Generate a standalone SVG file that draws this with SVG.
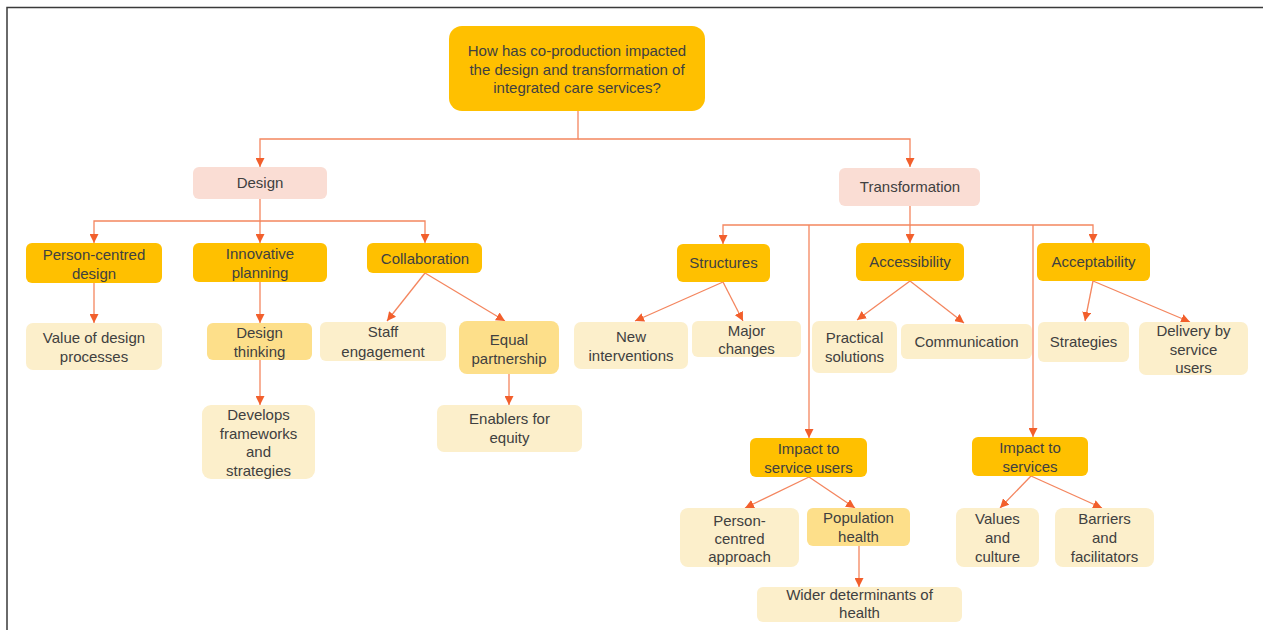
<svg xmlns="http://www.w3.org/2000/svg" width="1263" height="630" viewBox="0 0 1263 630">
<defs>
<style>
.t{font-family:"Liberation Sans",Arial,sans-serif;font-size:15px;fill:#404040;text-anchor:middle}
.root{fill:#FFC000}
.cat{fill:#FADDD4}
.dark{fill:#FFC000}
.mid{fill:#FDDF8A}
.light{fill:#FCEFCB}
.c{fill:none;stroke:#F4865F;stroke-width:1.3;marker-end:url(#ah)}
.cn{fill:none;stroke:#F4865F;stroke-width:1.3}
</style>
<marker id="ah" viewBox="0 0 10 10" refX="10" refY="5" markerWidth="9" markerHeight="9" markerUnits="userSpaceOnUse" orient="auto">
<path d="M0,0 L10,5 L0,10 z" fill="#F25F2C"/>
</marker>
</defs>
<rect x="0" y="0" width="1263" height="630" fill="#ffffff"/>
<path d="M7,630 V7.5 H1263" fill="none" stroke="#3a3a3a" stroke-width="1.5"/>

<g id="connectors">
<path class="c" d="M578,111 V139 H260 V167"/>
<path class="c" d="M578,139 H910 V167"/>
<path class="c" d="M260,199 V221 H94 V243"/>
<path class="c" d="M260,221 V243"/>
<path class="c" d="M260,221 H425 V243"/>
<path class="c" d="M94,283 V323"/>
<path class="c" d="M260,282 V323"/>
<path class="c" d="M260,360 V405"/>
<path class="c" d="M425,273 L387,321"/>
<path class="c" d="M425,273 L505,321"/>
<path class="c" d="M509,374 V405"/>
<path class="c" d="M910,206 V225 H723 V244"/>
<path class="c" d="M910,225 V243"/>
<path class="c" d="M910,225 H1093 V243"/>
<path class="c" d="M809,225 V438"/>
<path class="c" d="M1033,225 V437"/>
<path class="c" d="M723,282 L635,321"/>
<path class="c" d="M723,282 L743,321"/>
<path class="c" d="M910,281 L857,320"/>
<path class="c" d="M910,281 L964,323"/>
<path class="c" d="M1093,281 L1085,321"/>
<path class="c" d="M1093,281 L1190,322"/>
<path class="c" d="M809,477 L745,508"/>
<path class="c" d="M809,477 L855,508"/>
<path class="c" d="M859,546 V587"/>
<path class="c" d="M1031,476 L1000,508"/>
<path class="c" d="M1031,476 L1102,508"/>
</g>

<g id="root">
<rect class="root" x="449" y="26" width="256" height="85" rx="13"/>
<text class="t" x="577" y="56">How has co-production impacted</text>
<text class="t" x="577" y="74.5">the design and transformation of</text>
<text class="t" x="577" y="93">integrated care services?</text>
</g>

<g id="design">
<rect class="cat" x="193" y="167" width="134" height="32" rx="6"/>
<text class="t" x="260" y="188">Design</text>
</g>
<g id="transformation">
<rect class="cat" x="839" y="168" width="141" height="38" rx="6"/>
<text class="t" x="910" y="192">Transformation</text>
</g>

<g id="person-centred-design">
<rect class="dark" x="26" y="243" width="136" height="40" rx="6"/>
<text class="t" x="94" y="260">Person-centred</text>
<text class="t" x="94" y="279">design</text>
</g>
<g id="innovative-planning">
<rect class="dark" x="193" y="243" width="134" height="39" rx="6"/>
<text class="t" x="260" y="259">Innovative</text>
<text class="t" x="260" y="278">planning</text>
</g>
<g id="collaboration">
<rect class="dark" x="367" y="243" width="115" height="30" rx="6"/>
<text class="t" x="425" y="264">Collaboration</text>
</g>
<g id="value-design">
<rect class="light" x="26" y="323" width="136" height="47" rx="7"/>
<text class="t" x="94" y="343">Value of design</text>
<text class="t" x="94" y="362">processes</text>
</g>
<g id="design-thinking">
<rect class="mid" x="207" y="323" width="105" height="37" rx="6"/>
<text class="t" x="259.5" y="338">Design</text>
<text class="t" x="259.5" y="357">thinking</text>
</g>
<g id="develops">
<rect class="light" x="202" y="405" width="113" height="74" rx="9"/>
<text class="t" x="258.5" y="420">Develops</text>
<text class="t" x="258.5" y="438.5">frameworks</text>
<text class="t" x="258.5" y="457">and</text>
<text class="t" x="258.5" y="475.5">strategies</text>
</g>
<g id="staff-engagement">
<rect class="light" x="320" y="322" width="126" height="39" rx="6"/>
<text class="t" x="383" y="337">Staff</text>
<text class="t" x="383" y="357">engagement</text>
</g>
<g id="equal-partnership">
<rect class="mid" x="459" y="321" width="100" height="53" rx="8"/>
<text class="t" x="509" y="345">Equal</text>
<text class="t" x="509" y="363.5">partnership</text>
</g>
<g id="enablers">
<rect class="light" x="437" y="405" width="145" height="47" rx="7"/>
<text class="t" x="509.5" y="424">Enablers for</text>
<text class="t" x="509.5" y="443">equity</text>
</g>

<g id="structures">
<rect class="dark" x="677" y="244" width="93" height="38" rx="6"/>
<text class="t" x="723.5" y="268">Structures</text>
</g>
<g id="accessibility">
<rect class="dark" x="856" y="243" width="108" height="38" rx="6"/>
<text class="t" x="910" y="267">Accessibility</text>
</g>
<g id="acceptability">
<rect class="dark" x="1037" y="243" width="113" height="38" rx="6"/>
<text class="t" x="1093.5" y="267">Acceptability</text>
</g>
<g id="new-interventions">
<rect class="light" x="574" y="322" width="114" height="47" rx="7"/>
<text class="t" x="631" y="342">New</text>
<text class="t" x="631" y="361">interventions</text>
</g>
<g id="major-changes">
<rect class="light" x="692" y="321" width="109" height="36" rx="6"/>
<text class="t" x="746.5" y="336">Major</text>
<text class="t" x="746.5" y="354">changes</text>
</g>
<g id="practical-solutions">
<rect class="light" x="812" y="321" width="85" height="52" rx="7"/>
<text class="t" x="854.5" y="343">Practical</text>
<text class="t" x="854.5" y="362">solutions</text>
</g>
<g id="communication">
<rect class="light" x="901" y="324" width="131" height="35" rx="6"/>
<text class="t" x="966.5" y="347">Communication</text>
</g>
<g id="strategies">
<rect class="light" x="1038" y="322" width="91" height="40" rx="6"/>
<text class="t" x="1083.5" y="347">Strategies</text>
</g>
<g id="delivery">
<rect class="light" x="1139" y="322" width="109" height="53" rx="7"/>
<text class="t" x="1193.5" y="336">Delivery by</text>
<text class="t" x="1193.5" y="354.5">service</text>
<text class="t" x="1193.5" y="372.5">users</text>
</g>

<g id="impact-service-users">
<rect class="dark" x="750" y="438" width="117" height="39" rx="6"/>
<text class="t" x="808.5" y="454">Impact to</text>
<text class="t" x="808.5" y="473">service users</text>
</g>
<g id="impact-services">
<rect class="dark" x="972" y="437" width="116" height="39" rx="6"/>
<text class="t" x="1030" y="453">Impact to</text>
<text class="t" x="1030" y="472">services</text>
</g>
<g id="person-centred-approach">
<rect class="light" x="680" y="508" width="119" height="59" rx="8"/>
<text class="t" x="739.5" y="526">Person-</text>
<text class="t" x="739.5" y="544">centred</text>
<text class="t" x="739.5" y="562">approach</text>
</g>
<g id="population-health">
<rect class="mid" x="807" y="508" width="103" height="38" rx="6"/>
<text class="t" x="858.5" y="523">Population</text>
<text class="t" x="858.5" y="542">health</text>
</g>
<g id="wider-determinants">
<rect class="light" x="757" y="587" width="205" height="35" rx="6"/>
<text class="t" x="859.5" y="600">Wider determinants of</text>
<text class="t" x="859.5" y="618">health</text>
</g>
<g id="values-culture">
<rect class="light" x="956" y="508" width="83" height="59" rx="8"/>
<text class="t" x="997.5" y="524">Values</text>
<text class="t" x="997.5" y="543">and</text>
<text class="t" x="997.5" y="561.5">culture</text>
</g>
<g id="barriers-facilitators">
<rect class="light" x="1055" y="508" width="99" height="59" rx="8"/>
<text class="t" x="1104.5" y="524">Barriers</text>
<text class="t" x="1104.5" y="543">and</text>
<text class="t" x="1104.5" y="561.5">facilitators</text>
</g>
</svg>
